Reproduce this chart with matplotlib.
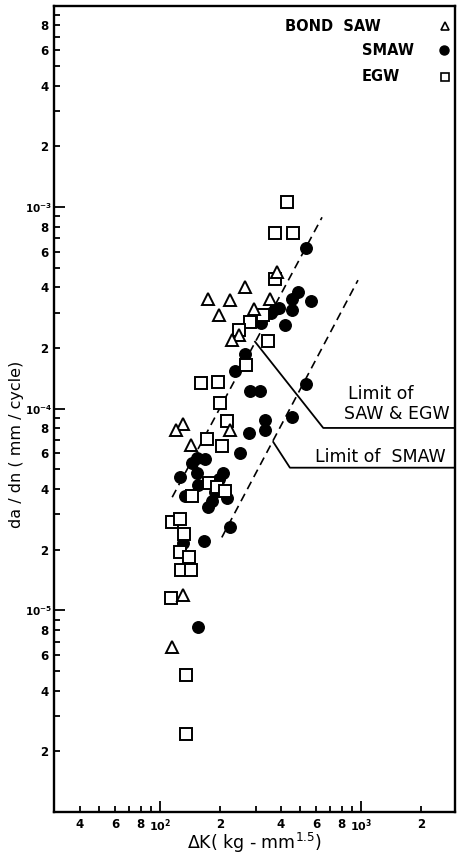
import numpy as np
import matplotlib
matplotlib.use('Agg')
import matplotlib.pyplot as plt
from matplotlib.ticker import FixedLocator, FixedFormatter

plt.rcParams['font.family'] = 'DejaVu Sans'
plt.rcParams['mathtext.fontset'] = 'dejavusans'

# Bond SAW (open triangles)
saw_dk = [382, 265, 173, 223, 353, 197, 294, 247, 228, 130, 120, 223, 143, 130, 115]
saw_rate = [4.75e-4, 4.0e-4, 3.5e-4, 3.45e-4, 3.5e-4, 2.9e-4, 3.12e-4, 2.32e-4,
            2.19e-4, 8.4e-5, 7.8e-5, 7.8e-5, 6.6e-5, 1.19e-5, 6.6e-6]

# SMAW (filled circles)
smaw_dk = [533, 486, 454, 564, 454, 373, 391, 357, 318, 419,
           265, 236, 280, 315, 533, 454, 333, 333, 277, 250,
           153, 167, 144, 153, 126, 206, 197, 155, 133, 188,
           215, 181, 173, 223, 166, 130, 155]
smaw_rate = [6.3e-4, 3.8e-4, 3.5e-4, 3.42e-4, 3.08e-4, 3.12e-4, 3.15e-4, 2.98e-4, 2.66e-4, 2.6e-4,
             1.86e-4, 1.54e-4, 1.22e-4, 1.22e-4, 1.32e-4, 9.1e-5, 8.8e-5, 7.8e-5, 7.6e-5, 6.0e-5,
             5.7e-5, 5.65e-5, 5.4e-5, 4.8e-5, 4.6e-5, 4.8e-5, 4.5e-5, 4.2e-5, 3.7e-5, 3.85e-5,
             3.6e-5, 3.5e-5, 3.25e-5, 2.6e-5, 2.2e-5, 2.15e-5, 8.3e-6]

# EGW (open squares)
egw_dk = [430, 373, 459, 373, 325, 280, 247, 345, 268, 160,
          194, 199, 215, 171, 203, 175, 192, 211, 144, 115,
          126, 132, 126, 139, 127, 143, 113, 135, 135]
egw_rate = [1.06e-3, 7.4e-4, 7.4e-4, 4.4e-4, 2.9e-4, 2.7e-4, 2.45e-4, 2.16e-4, 1.64e-4, 1.34e-4,
            1.35e-4, 1.065e-4, 8.7e-5, 7.1e-5, 6.5e-5, 4.3e-5, 4.1e-5, 3.9e-5, 3.7e-5, 2.75e-5,
            2.85e-5, 2.4e-5, 1.94e-5, 1.83e-5, 1.58e-5, 1.58e-5, 1.15e-5, 4.8e-6, 2.43e-6]

# limit lines (dashed) and leader lines for their labels
lim_saw_dk = [115, 640]
lim_saw_rate = [3.64e-5, 8.9e-4]
lim_smaw_dk = [203, 966]
lim_smaw_rate = [2.3e-5, 4.34e-4]

xmin, xmax = 29.7, 2937
ymin, ymax = 1e-6, 9.94e-3

lead_saw_dk = [297, 649, xmax]
lead_saw_rate = [2.15e-4, 8.03e-5, 8.03e-5]
lead_smaw_dk = [366, 443, xmax]
lead_smaw_rate = [6.84e-5, 5.1e-5, 5.1e-5]

fig = plt.figure(figsize=(4.57, 8.55), dpi=100)
ax = fig.add_axes([0.1182, 0.0503, 0.8775, 0.9427])
ax.set_xscale('log')
ax.set_yscale('log')
ax.set_xlim(xmin, xmax)
ax.set_ylim(ymin, ymax)

ax.plot(smaw_dk, smaw_rate, 'o', ms=8.3, mfc='black', mec='black', ls='none', zorder=3)
ax.plot(egw_dk, egw_rate, 's', ms=8.0, mfc='white', mec='black', mew=1.4, ls='none', zorder=4)
ax.plot(saw_dk, saw_rate, '^', ms=9.0, mfc='white', mec='black', mew=1.4, ls='none', zorder=4)

dash = (0, (5, 3.2))
ax.plot(lim_saw_dk, lim_saw_rate, color='black', lw=1.2, ls=dash, zorder=2)
ax.plot(lim_smaw_dk, lim_smaw_rate, color='black', lw=1.2, ls=dash, zorder=2)
ax.plot(lead_saw_dk, lead_saw_rate, color='black', lw=1.3, zorder=2)
ax.plot(lead_smaw_dk, lead_smaw_rate, color='black', lw=1.3, zorder=2)

ax.text(0.8155, 0.518, 'Limit of', transform=ax.transAxes, ha='center', va='center', fontsize=12.5)
ax.text(0.855, 0.4932, 'SAW & EGW', transform=ax.transAxes, ha='center', va='center', fontsize=12.5)
ax.text(0.814, 0.441, 'Limit of  SMAW', transform=ax.transAxes, ha='center', va='center', fontsize=12.5)

# legend block in the upper right corner
ax.text(0.576, 0.975, 'BOND  SAW', transform=ax.transAxes, ha='left', va='center',
        fontsize=10.5, fontweight='bold')
ax.text(0.768, 0.945, 'SMAW', transform=ax.transAxes, ha='left', va='center',
        fontsize=10.5, fontweight='bold')
ax.text(0.768, 0.912, 'EGW', transform=ax.transAxes, ha='left', va='center',
        fontsize=10.5, fontweight='bold')
ax.plot([0.975], [0.975], '^', ms=6, mfc='white', mec='black', mew=1.2, transform=ax.transAxes, clip_on=False)
ax.plot([0.972], [0.945], 'o', ms=6.5, mfc='black', mec='black', transform=ax.transAxes, clip_on=False)
ax.plot([0.975], [0.912], 's', ms=5.5, mfc='white', mec='black', mew=1.2, transform=ax.transAxes, clip_on=False)

# y axis: decades labelled as powers, 2/4/6/8 labelled in between
y_major = [1e-5, 1e-4, 1e-3]
y_major_labels = [r'$\mathbf{10^{-5}}$', r'$\mathbf{10^{-4}}$', r'$\mathbf{10^{-3}}$']
y_minor, y_minor_labels = [], []
for e in range(-6, -2):
    for k in range(2, 10):
        y_minor.append(k * 10.0 ** e)
        y_minor_labels.append(str(k) if k % 2 == 0 else '')
ax.yaxis.set_major_locator(FixedLocator(y_major))
ax.yaxis.set_major_formatter(FixedFormatter(y_major_labels))
ax.yaxis.set_minor_locator(FixedLocator(y_minor))
ax.yaxis.set_minor_formatter(FixedFormatter(y_minor_labels))

x_major = [1e2, 1e3]
x_major_labels = [r'$\mathbf{10^{2}}$', r'$\mathbf{10^{3}}$']
x_minor = [40, 50, 60, 70, 80, 90, 200, 300, 400, 500, 600, 700, 800, 900, 2000]
x_minor_labels = ['4', '', '6', '', '8', '', '2', '', '4', '', '6', '', '8', '', '2']
ax.xaxis.set_major_locator(FixedLocator(x_major))
ax.xaxis.set_major_formatter(FixedFormatter(x_major_labels))
ax.xaxis.set_minor_locator(FixedLocator(x_minor))
ax.xaxis.set_minor_formatter(FixedFormatter(x_minor_labels))

ax.tick_params(which='major', direction='in', length=8, width=1.3, labelsize=7.5, pad=1.5)
ax.tick_params(which='minor', direction='in', length=4, width=1.3, labelsize=8.5, pad=4)
ax.tick_params(axis='x', which='major', pad=4, labelsize=8)
for lab in ax.get_xticklabels(which='both') + ax.get_yticklabels(which='both'):
    lab.set_fontweight('bold')

for s in ax.spines.values():
    s.set_linewidth(1.7)

ax.set_xlabel(r'$\Delta$K( kg - mm$^{1.5}$)', fontsize=12.5, va='center')
ax.xaxis.set_label_coords(0.501, -0.0385)
ax.set_ylabel('da / dn ( mm / cycle)', fontsize=11.5, va='center')
ax.yaxis.set_label_coords(-0.094, 0.456)

fig.savefig('out.png', dpi=100)
